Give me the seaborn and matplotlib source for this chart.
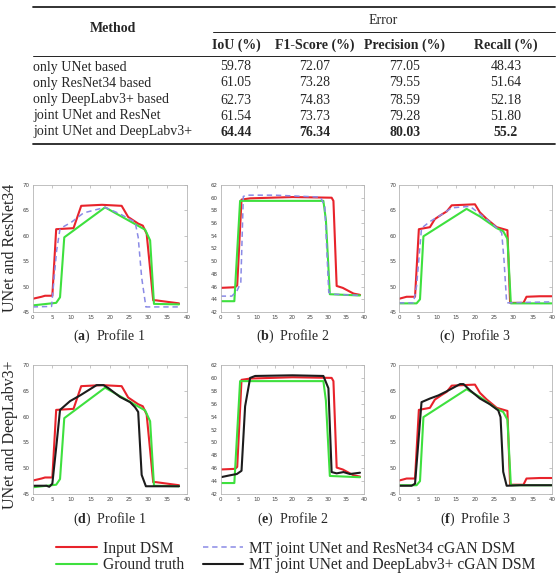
import numpy as np
import pandas as pd
import matplotlib
matplotlib.use('Agg')
import matplotlib.pyplot as plt
from matplotlib.lines import Line2D
import seaborn as sns

# ---- table values ----
methods = ['only UNet based', 'only ResNet34 based', 'only DeepLabv3+ based',
           'joint UNet and ResNet', 'joint UNet and DeepLabv3+']
col_headers = ['IoU (%)', 'F1-Score (%)', 'Precision (%)', 'Recall (%)']
iou = ['59.78', '61.05', '62.73', '61.54', '64.44']
f1 = ['72.07', '73.28', '74.83', '73.73', '76.34']
precision = ['77.05', '79.55', '78.59', '79.28', '80.03']
recall = ['48.43', '51.64', '52.18', '51.80', '55.2']

# ---- profile 1 ----
red1_x = [0, 2.3, 3.2, 5.1, 6.1, 10.6, 12.6, 18, 23.1, 24.8, 27.4, 28.6, 29.6, 31.3, 32, 35, 38]
red1_y = [47.6, 48.0, 48.2, 48.2, 61.3, 61.5, 65.9, 66.1, 65.9, 63.7, 62.4, 62.0, 60.4, 47.3, 47.3, 47.0, 46.7]
green1_x = [0, 6.1, 7.1, 8.2, 18.8, 29.2, 30.5, 31.5, 38]
green1_y = [46.3, 46.8, 47.9, 59.7, 65.6, 61.2, 59.1, 46.6, 46.5]
blue1_x = [0, 4.9, 6.2, 7.1, 10.1, 13.2, 18.8, 22.7, 26.6, 27.4, 28.3, 29.4, 38]
blue1_y = [46.0, 46.1, 57.0, 61.4, 62.7, 64.5, 65.6, 64.3, 62.7, 59.7, 51.8, 46.0, 46.0]
black1_x = [0, 3.6, 4.3, 5.1, 6.1, 7.1, 9.7, 12.3, 16.6, 18.4, 19.7, 22.7, 25.3, 26.6, 27.4, 28.3, 29.4, 38]
black1_y = [46.6, 46.6, 46.4, 47.0, 54.0, 61.3, 63.0, 64.1, 66.1, 66.1, 65.5, 63.8, 62.8, 61.8, 60.9, 48.7, 46.5, 46.5]

# ---- profile 2 ----
red2_x = [0, 4.0, 4.6, 5.8, 8.2, 20, 30.9, 31.4, 32.3, 34, 37, 38.8]
red2_y = [45.8, 45.9, 46.2, 59.7, 59.9, 60.1, 60.0, 59.5, 46.1, 45.8, 44.9, 44.7]
green2_x = [0, 3.8, 5.4, 28.6, 29.3, 30.4, 38.8]
green2_y = [43.7, 43.7, 59.5, 59.5, 56.5, 44.8, 44.6]
blue2_x = [0, 3.1, 4.5, 5.6, 6.3, 7.2, 15, 27.8, 29.0, 30.1, 31.4, 38.8]
blue2_y = [44.5, 44.5, 45.3, 46.6, 60.2, 60.4, 60.4, 60.1, 58.6, 45.1, 44.8, 44.6]
black2_x = [0, 2.6, 4.5, 5.8, 6.8, 8.2, 9.6, 20, 28.6, 30.0, 30.9, 32.3, 34.2, 36.0, 38.8]
black2_y = [44.6, 44.9, 45.1, 45.6, 55.6, 60.0, 60.3, 60.4, 60.3, 58.4, 45.4, 45.2, 45.4, 45.1, 45.3]

# ---- profile 3 ----
red3_x = [0, 2.0, 4.2, 5.2, 8.1, 9.4, 11.2, 12.5, 13.8, 19.9, 21.2, 23.0, 25.6, 28.4, 29.1, 32.6, 33.4, 36.9, 40]
red3_y = [47.6, 48.0, 48.0, 61.3, 61.7, 63.3, 64.2, 64.8, 66.0, 66.2, 64.6, 63.3, 61.7, 61.1, 46.8, 46.8, 48.0, 48.1, 48.1]
green3_x = [0, 4.6, 5.5, 6.4, 17.7, 21.2, 25.6, 27.3, 28.4, 29.3, 40]
green3_y = [46.7, 46.7, 47.5, 59.9, 65.3, 63.8, 61.5, 60.9, 59.4, 46.7, 46.7]
blue3_x = [0, 3.8, 4.6, 5.9, 8.1, 11.2, 13.8, 18.6, 21.2, 24.7, 26.9, 27.5, 28.2, 40]
blue3_y = [46.8, 46.8, 50.1, 61.5, 62.8, 64.2, 65.5, 65.8, 64.3, 62.2, 60.6, 55.3, 46.8, 47.0]
black3_x = [0, 3.3, 4.2, 5.1, 5.9, 8.1, 10.3, 12.5, 16.0, 16.9, 18.6, 21.2, 23.8, 26.0, 26.6, 27.3, 28.2, 31.7, 40]
black3_y = [46.6, 46.6, 47.0, 55.3, 62.8, 63.5, 64.1, 64.9, 66.3, 66.3, 65.1, 63.5, 62.4, 61.2, 59.9, 49.3, 46.6, 46.7, 46.7]

x_ticks = [0, 5, 10, 15, 20, 25, 30, 35, 40]
y_ticks_13 = [45, 50, 55, 60, 65, 70]
y_ticks_2 = [42, 44, 46, 48, 50, 52, 54, 56, 58, 60, 62]

row_labels = ['UNet and ResNet34', 'UNet and DeepLabv3+']
captions = [['a', 'b', 'c'], ['d', 'e', 'f']]
profile_names = ['Profile 1', 'Profile 2', 'Profile 3']
series_names = ['Input DSM', 'Ground truth', 'MT joint UNet and ResNet34 cGAN DSM',
                'MT joint UNet and DeepLabv3+ cGAN DSM']

sns.set_style('white')
plt.rcParams['font.family'] = ['Liberation Serif', 'DejaVu Serif']
plt.rcParams['mathtext.fontset'] = 'custom'
plt.rcParams['mathtext.rm'] = 'Liberation Serif'
plt.rcParams['mathtext.bf'] = 'Liberation Serif:bold'

RED = '#e8232b'
GREEN = '#3ee03e'
BLUE = '#8a8ae6'
BLACK = '#1c1c1c'

W, H = 559, 575
fig = plt.figure(figsize=(W / 100, H / 100), dpi=100)

# ---------- table (drawn in pixel coords) ----------
tab = fig.add_axes([0, 0, 1, 1])
tab.set_xlim(0, W)
tab.set_ylim(H, 0)
tab.axis('off')
fs = 10
tab.add_line(Line2D([33, 555], [7, 7], color='#222', lw=1.3))
tab.add_line(Line2D([213, 555], [32, 32], color='#222', lw=0.7))
tab.add_line(Line2D([33, 555], [56, 56], color='#222', lw=0.7))
tab.add_line(Line2D([33, 555], [144, 144], color='#222', lw=1.3))
tab.text(113, 29, 'Method', ha='center', va='center', fontsize=fs, fontweight='bold')
tab.text(383, 20, 'Error', ha='center', va='center', fontsize=fs)
col_x = [236, 315, 405, 506]
for cx, hd in zip(col_x, col_headers):
    tab.text(cx, 45, hd, ha='center', va='center', fontsize=fs, fontweight='bold')
row_y = [67, 83, 100, 116, 132]
cols = [iou, f1, precision, recall]
for i, (ry, m) in enumerate(zip(row_y, methods)):
    tab.text(33, ry, m, ha='left', va='center', fontsize=fs)
    for cx, col in zip(col_x, cols):
        tab.text(cx, ry, col[i], ha='center', va='center', fontsize=fs,
                 fontweight='bold' if i == len(methods) - 1 else 'normal')

# ---------- profile panels ----------
lefts = [32.7, 220.7, 399]
widths = [154, 143.6, 152.7]
tops = [185, 365]
heights = [127, 129]

profiles = [
    [(red1_x, red1_y), (green1_x, green1_y), (blue1_x, blue1_y), (black1_x, black1_y), y_ticks_13],
    [(red2_x, red2_y), (green2_x, green2_y), (blue2_x, blue2_y), (black2_x, black2_y), y_ticks_2],
    [(red3_x, red3_y), (green3_x, green3_y), (blue3_x, blue3_y), (black3_x, black3_y), y_ticks_13],
]

handles = {}
for r in range(2):
    for c in range(3):
        ax = fig.add_axes([lefts[c] / W, 1 - (tops[r] + heights[r]) / H, widths[c] / W, heights[r] / H])
        red, green, blue, black, yt = profiles[c]
        sns.lineplot(x=red[0], y=red[1], ax=ax, color=RED, lw=1.5, estimator=None, label=series_names[0])
        sns.lineplot(x=green[0], y=green[1], ax=ax, color=GREEN, lw=1.5, estimator=None, label=series_names[1])
        if r == 0:
            sns.lineplot(x=blue[0], y=blue[1], ax=ax, color=BLUE, lw=1.1, linestyle=(0, (3.5, 2.5)),
                         estimator=None, label=series_names[2])
        else:
            sns.lineplot(x=black[0], y=black[1], ax=ax, color=BLACK, lw=1.5, estimator=None,
                         label=series_names[3])
        hs, ls = ax.get_legend_handles_labels()
        for h, l in zip(hs, ls):
            handles.setdefault(l, h)
        ax.get_legend().remove()
        ax.set_xlim(0, 40)
        ax.set_ylim(yt[0], yt[-1])
        ax.set_xticks(x_ticks)
        ax.set_yticks(yt)
        ax.set_xlabel('')
        ax.set_ylabel('')
        ax.tick_params(direction='in', length=2, width=0.4, color='#999999', labelsize=4,
                       labelcolor='#444444', pad=2, top=True, right=True, labelfontfamily='DejaVu Sans')
        for sp in ax.spines.values():
            sp.set_color('#b5b5b5')
            sp.set_linewidth(0.6)
        cap_y = tops[r] + heights[r] + (24 if r == 0 else 25)
        fig.text((lefts[c] + widths[c] / 2) / W, 1 - cap_y / H,
                 r'($\mathbf{' + captions[r][c] + r'}$)  ' + profile_names[c],
                 ha='center', va='center', fontsize=10)

fig.text(10 / W, 1 - 248 / H, row_labels[0], rotation=90, ha='center', va='center', fontsize=11.5)
fig.text(10 / W, 1 - 435 / H, row_labels[1], rotation=90, ha='center', va='center', fontsize=11.5)

leg_h = [handles[n] for n in series_names]
fig.legend(leg_h, series_names, loc='center', bbox_to_anchor=(296 / W, 1 - 557 / H), ncol=2,
           frameon=False, fontsize=11.2, handlelength=2.6, handletextpad=0.4, columnspacing=1.2,
           labelspacing=0.05)

fig.savefig('out.png', dpi=100)
